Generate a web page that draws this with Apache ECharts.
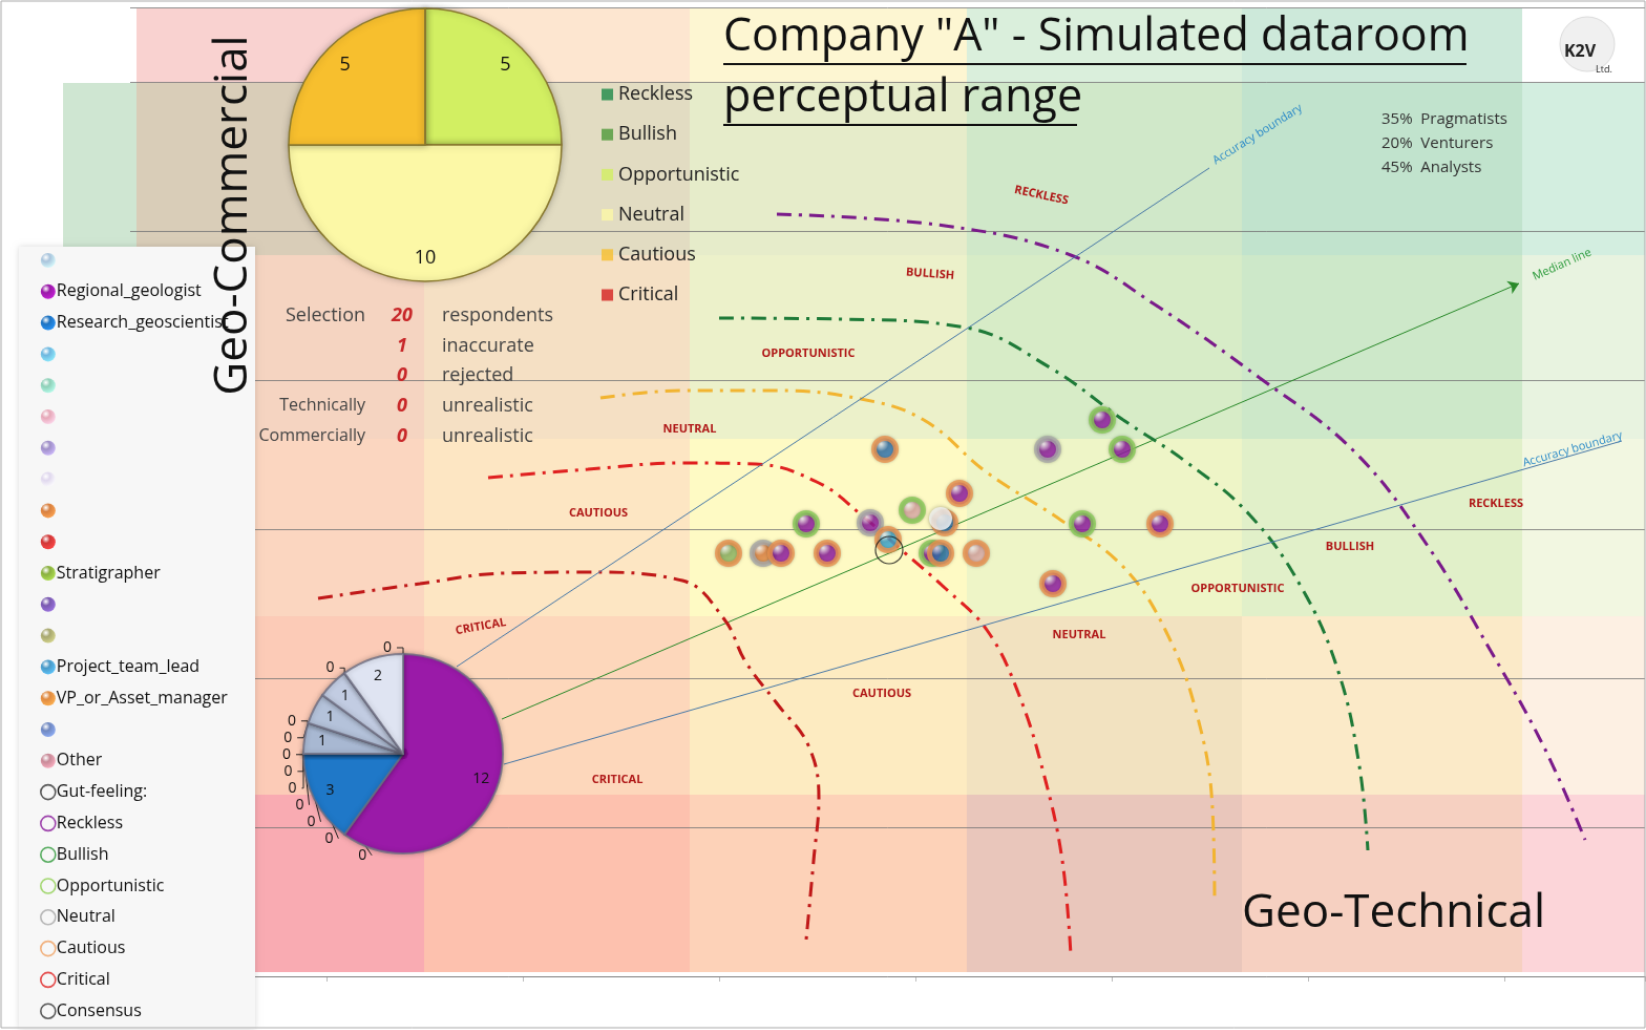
<!DOCTYPE html>
<html><head><meta charset="utf-8">
<script src="https://cdn.jsdelivr.net/npm/echarts@6/dist/echarts.min.js"></script>
<style>html,body{margin:0;padding:0;background:#fff;width:1646px;height:1030px}#c{width:1568px;height:981px;transform:scale(1.04974);transform-origin:0 0}</style>
</head><body><div id="c"></div>
<script>
// ---------- DATA ----------
const topPieNames = ['Reckless','Bullish','Opportunistic','Neutral','Cautious','Critical'];
const topPieValues = [0,0,5,10,5,0];
const roleNames = [' ','Regional_geologist','Research_geoscientist','  ','   ','    ','     ','      ','       ','        ','Stratigrapher','         ','          ','Project_team_lead','VP_or_Asset_manager','           ','Other'];
const roleValues = [0,12,3,0,0,0,0,0,0,0,1,0,0,1,1,0,2];
const gutNames = ['Gut-feeling:','Reckless','Bullish','Opportunistic','Neutral','Cautious','Critical','Consensus'];
// scatter points: [x score, y score, role]
const cautiousPts = [[719,502,'blue'],[790,460,'purple'],[776,432,'blue'],[722,416,'teal'],[981,431,'purple'],[570,403,'green'],[620,403,'purple'],[664,403,'purple'],[772,403,'blue'],[806,403,'pink'],[879,374,'purple']];
const bullishPts = [[926,530,'purple'],[945,502,'purple'],[745,444,'pink'],[644,431,'purple'],[907,431,'purple'],[764,403,'purple']];
const neutralPts = [[874,502,'purple'],[705,432,'purple'],[603,403,'orange']];
const whitePts = [[772,436,'white']];
const consensusPt = [[723,406]];
// perceptual boundary curves
const recklessCurve = [[616,726],[776,715],[896,687],[976,640],[1076,570],[1166,500],[1236,410],[1296,310],[1346,220],[1386,130]];
const bullishCurve = [[561,627],[676,626],[796,618],[876,580],[946,530],[1006,490],[1066,440],[1116,370],[1151,290],[1171,200],[1179,120]];
const neutralCurve = [[448,551],[526,558],[616,558],[696,550],[756,530],[816,480],[886,435],[946,390],[986,330],[1016,250],[1031,160],[1033,70]];
const cautiousCurve = [[341,475],[436,483],[526,489],[596,488],[656,470],[696,440],[736,405],[776,370],[816,330],[846,270],[871,190],[888,110],[896,20]];
const criticalCurve = [[179,360],[276,374],[356,384],[436,385],[526,377],[566,340],[586,300],[616,260],[646,220],[656,170],[651,110],[644,35]];
const upperAccuracy = [[311,295],[1028,770]];
const medianLine = [[354,245],[1323,660]];
const lowerAccuracy = [[356,202],[1421,510]];
// background zones
const colBounds = [6,280,533,797,1059,1326,1443];
const rowBounds = [922,851,687,512,343,173,4];
const zoneColors = [
 ['#f9d2d0','#fde6d0','#fdf6d2','#daefdc','#cde9da','#ffffff'],
 ['#d9cdb8','#e2dcc2','#e6ecca','#d0e8c9','#c1e3cd','#d3eee0'],
 ['#f5d4c1','#f5e0c4','#ecf1ca','#d7ecc7','#cde8c9','#e8f3e0'],
 ['#fbd6c0','#fde6c3','#fefac4','#eef5c7','#e1f0c9','#f2f7e1'],
 ['#fccbb7','#fdd7bb','#fdebc1','#f2e2c0','#fbeac8','#fdf0e3'],
 ['#f9abb2','#fdc1ae','#fdd2b8','#e9c6bb','#f6d0c1','#fcd5d9']
];
const zoneLabels = [['RECKLESS',992,186,12],['BULLISH',886,261,4],['OPPORTUNISTIC',770,337,0],['NEUTRAL',657,409,0],['CAUTIOUS',570,489,0],['CRITICAL',458,597,-10],
 ['RECKLESS',1425,480,0],['BULLISH',1286,521,0],['OPPORTUNISTIC',1179,561,0],['NEUTRAL',1028,605,0],['CAUTIOUS',840,661,0],['CRITICAL',588,743,0]];
const selRows = [['Selection','20','respondents'],['','1','inaccurate'],['','0','rejected'],['Technically','0','unrealistic'],['Commercially','0','unrealistic']];
const mixLines = ['35%  Pragmatists','20%  Venturers','45%  Analysts'];

// ---------- STYLES ----------
const topPieColors = ['#1e8a48','#4f9a3a','#d2ef62','#fcf8a6','#f7bf2e','#d42020'];
const roleLegendColors = ['#a9c4dc','#9a1aa8','#1f74c2','#6fb8e0','#8fd0b8','#e6a8b8','#a090c8','#e0d8ee','#d88040','#d03838','#8ab040','#7a5ab0','#a8a870','#4a9ac8','#e08a40','#7088c0','#c88a98'];
const rolePieColors = ['#c8d2e4','#9a1aa8','#1f78c8','#b0c0da','#b0c0da','#b0c0da','#b0c0da','#b0c0da','#b0c0da','#b0c0da','#a8b8d2','#b8c6de','#b8c6de','#b4c2da','#c2cce2','#c8d2e6','#dfe4f2'];
const sphere = {purple:'#8a1a9b',blue:'#2f6fa8',teal:'#3aa0c8',pink:'#d8a4a0',orange:'#e08040',green:'#8ab060',white:'#f4f4f4'};
const gutColors = {Reckless:'#8a1a9b',Bullish:'#2e9a3a',Opportunistic:'#8fcf50',Neutral:'#a8a8a8',Cautious:'#f0a060',Critical:'#e02020'};

function ballGrad(c){return new echarts.graphic.RadialGradient(0.35,0.3,0.8,[{offset:0,color:'#ffffff'},{offset:0.35,color:c},{offset:1,color:echarts.color.lift(c,-0.3)}]);}
function pts(arr,ring){return arr.map(p=>({value:[p[0],p[1]],itemStyle:{color:ballGrad(sphere[p[2]]),borderColor:ring,borderWidth:ring?5:0}}));}

const bgRects=[];
for(let r=0;r<6;r++)for(let c=0;c<6;c++)bgRects.push([colBounds[c],colBounds[c+1],rowBounds[r+1],rowBounds[r],zoneColors[r][c]]);
bgRects.push([-64,6,687,851,'#cfe6d2']);

const chart = echarts.init(document.getElementById('c'));
function curve(name,data,color){return {type:'line',name:name+'_curve',data,smooth:0.4,symbol:'none',z:6,lineStyle:{color,width:3,type:[14,7,3,7]},silent:true};}
function straight(data,color){return {type:'line',data,symbol:'none',z:6,lineStyle:{color,width:1},silent:true};}

const graphics=[];
graphics.push({type:'rect',shape:{x:18,y:235,width:225,height:745},style:{fill:'#f7f7f7',shadowBlur:6,shadowColor:'rgba(0,0,0,0.15)'},z:20});
graphics.push({type:'rect',shape:{x:1,y:1,width:1566,height:978},style:{fill:'none',stroke:'#aaa',lineWidth:1},z:50});
graphics.push({type:'text',left:689,top:14,style:{text:'Company "A" - Simulated dataroom',font:'43px "Open Sans", sans-serif',fill:'#111'},z:30});
graphics.push({type:'text',left:689,top:72,style:{text:'perceptual range',font:'43px "Open Sans", sans-serif',fill:'#111'},z:30});
graphics.push({type:'line',shape:{x1:689,y1:61,x2:1397,y2:61},style:{stroke:'#111',lineWidth:2},z:30});
graphics.push({type:'line',shape:{x1:689,y1:119,x2:1026,y2:119},style:{stroke:'#111',lineWidth:2},z:30});
graphics.push({type:'text',x:222,y:205,rotation:Math.PI/2,style:{text:'Geo-Commercial',font:'44px "Open Sans", sans-serif',fill:'#111',align:'center',verticalAlign:'middle'},z:30});
graphics.push({type:'text',left:1183,top:848,style:{text:'Geo-Technical',font:'44px "Open Sans", sans-serif',fill:'#111'},z:30});
mixLines.forEach((t,i)=>graphics.push({type:'text',left:1316,top:106+i*23,style:{text:t,font:'15px "Open Sans", sans-serif',fill:'#333'},z:30}));
selRows.forEach((r,i)=>{
  const y=301+i*28.6;
  graphics.push({type:'text',x:348,y,style:{text:r[0],align:'right',verticalAlign:'middle',font:(i===0?'18px':'16px')+' "Open Sans", sans-serif',fill:'#444'},z:30});
  graphics.push({type:'text',x:383,y,style:{text:r[1],align:'center',verticalAlign:'middle',font:'italic bold 18px "Open Sans", sans-serif',fill:'#c8282a'},z:30});
  graphics.push({type:'text',x:421,y,style:{text:r[2],verticalAlign:'middle',font:'18px "Open Sans", sans-serif',fill:'#444'},z:30});
});
zoneLabels.forEach(l=>graphics.push({type:'text',x:l[1],y:l[2],rotation:-l[3]*Math.PI/180,style:{text:l[0],align:'center',verticalAlign:'middle',font:'bold 11px "Open Sans", sans-serif',fill:'#b01818'},z:30}));
graphics.push({type:'text',x:1198,y:128,rotation:32*Math.PI/180,style:{text:'Accuracy boundary',align:'center',verticalAlign:'middle',font:'11px "Open Sans", sans-serif',fill:'#2a8ac8'},z:30});
graphics.push({type:'text',x:1498,y:428,rotation:16*Math.PI/180,style:{text:'Accuracy boundary',align:'center',verticalAlign:'middle',font:'11px "Open Sans", sans-serif',fill:'#2a8ac8'},z:30});
graphics.push({type:'text',x:1488,y:252,rotation:24*Math.PI/180,style:{text:'Median line',align:'center',verticalAlign:'middle',font:'11px "Open Sans", sans-serif',fill:'#2a9a3a'},z:30});
graphics.push({type:'circle',shape:{cx:1512,cy:42,r:26},style:{fill:'#f0f0f0',stroke:'#ddd'},z:30});
graphics.push({type:'text',x:1505,y:49,style:{text:'K2V',align:'center',verticalAlign:'middle',font:'bold 16px "Open Sans", sans-serif',fill:'#222'},z:31});
graphics.push({type:'text',x:1528,y:66,style:{text:'Ltd.',align:'center',verticalAlign:'middle',font:'9px "Open Sans", sans-serif',fill:'#222'},z:31});

const series=[
 {type:'custom',name:'zones',silent:true,z:1,clip:false,data:bgRects,
  renderItem:(p,api)=>{const a=api.coord([api.value(0),api.value(3)]),b=api.coord([api.value(1),api.value(2)]);
   return {type:'rect',shape:{x:a[0],y:a[1],width:b[0]-a[0],height:b[1]-a[1]},style:{fill:bgRects[p.dataIndex][4]}};}},
 curve('Reckless',recklessCurve,'#7a1a8a'),
 curve('Bullish',bullishCurve,'#1e7a38'),
 curve('Neutral',neutralCurve,'#f2b430'),
 curve('Cautious',cautiousCurve,'#e02020'),
 curve('Critical',criticalCurve,'#c01818'),
 straight(upperAccuracy,'#4a7aa8'),
 straight(lowerAccuracy,'#4a7aa8'),
 {type:'line',data:[],z:6,silent:true,markLine:{silent:true,symbol:['none','arrow'],symbolSize:10,label:{show:false},
   lineStyle:{color:'#2a8a2a',width:1,type:'solid'},data:[[{coord:medianLine[0]},{coord:medianLine[1]}]]}},
 {type:'scatter',name:'Gut-feeling:',data:[],itemStyle:{color:'transparent',borderColor:'#333',borderWidth:1}},
 {type:'scatter',name:'Reckless',data:[],itemStyle:{color:'transparent',borderColor:gutColors.Reckless,borderWidth:2}},
 {type:'scatter',name:'Bullish',data:pts(bullishPts,'#88cc58'),symbolSize:21,z:8,itemStyle:{shadowBlur:3,shadowColor:'rgba(0,0,0,0.3)'}},
 {type:'scatter',name:'Opportunistic',data:[],itemStyle:{color:'transparent',borderColor:gutColors.Opportunistic,borderWidth:2}},
 {type:'scatter',name:'Neutral',data:pts(neutralPts,'#aaaaaa'),symbolSize:21,z:8,itemStyle:{shadowBlur:3,shadowColor:'rgba(0,0,0,0.3)'}},
 {type:'scatter',name:'Cautious',data:pts(cautiousPts,'#ec9450'),symbolSize:21,z:8,itemStyle:{shadowBlur:3,shadowColor:'rgba(0,0,0,0.3)'}},
 {type:'scatter',name:'Critical',data:[],itemStyle:{color:'transparent',borderColor:gutColors.Critical,borderWidth:2}},
 {type:'scatter',name:'white',data:pts(whitePts,null),symbolSize:22,z:9,itemStyle:{shadowBlur:4,shadowColor:'rgba(0,0,0,0.4)'}},
 {type:'scatter',name:'Consensus',data:consensusPt,symbolSize:26,z:10,itemStyle:{color:'transparent',borderColor:'#111',borderWidth:1.2}},
 {type:'pie',name:'gut',center:[405,138],radius:130,z:25,startAngle:90,
  data:topPieNames.map((n,i)=>({name:n,value:topPieValues[i]})),
  color:topPieColors,itemStyle:{borderColor:'#8a7a30',borderWidth:1.5,shadowBlur:6,shadowColor:'rgba(0,0,0,0.25)'},
  label:{show:false},labelLine:{show:false}},
 {type:'pie',name:'gutLabels',center:[405,138],radius:[80,130],z:26,startAngle:90,silent:true,
  data:topPieNames.map((n,i)=>({name:n,value:topPieValues[i],label:{show:topPieValues[i]>0}})),
  itemStyle:{color:'transparent'},
  label:{position:'inside',formatter:'{c}',color:'#111',fontSize:18,fontFamily:'Open Sans'},labelLine:{show:false}},
 {type:'pie',name:'roles',center:[384,718],radius:95,z:25,startAngle:90,
  data:roleNames.map((n,i)=>({name:n,value:roleValues[i],itemStyle:{color:rolePieColors[i]},label:roleValues[i]>0?{show:false}:{show:true,position:'outside'}})),
  itemStyle:{borderColor:'rgba(110,110,130,0.8)',borderWidth:2,shadowBlur:5,shadowColor:'rgba(0,0,0,0.25)'},
  label:{formatter:'{c}',color:'#111',fontSize:14,fontFamily:'Open Sans'},labelLine:{length:6,length2:6,lineStyle:{color:'#222'}}},
 {type:'pie',name:'roleLabels',center:[384,718],radius:[55,95],z:26,startAngle:90,silent:true,
  data:roleNames.map((n,i)=>({name:n,value:roleValues[i],label:{show:roleValues[i]>0}})),
  itemStyle:{color:'transparent'},
  label:{position:'inside',formatter:'{c}',color:'#111',fontSize:14,fontFamily:'Open Sans'},labelLine:{show:false}}
];

chart.setOption({
 animation:false,
 grid:{left:124,right:1,top:7,bottom:51},
 xAxis:{type:'value',min:0,max:1443,interval:187,axisLabel:{show:false},splitLine:{show:false},
  axisLine:{lineStyle:{color:'#bbb'}},axisTick:{lineStyle:{color:'#bbb'},length:5}},
 yAxis:{type:'value',min:0,max:923,interval:142,z:3,axisLabel:{show:false},axisLine:{show:false},axisTick:{show:false},
  splitLine:{lineStyle:{color:'#777',width:0.8}}},
 legend:[
  {orient:'vertical',left:568,top:76,itemGap:20.2,itemWidth:11,itemHeight:11,z:30,selectedMode:false,
   textStyle:{fontSize:18,fontFamily:'Open Sans',color:'#222'},
   data:topPieNames.map((n,i)=>({name:n,icon:'rect',itemStyle:{color:topPieColors[i],borderWidth:0}}))},
  {orient:'vertical',left:33,top:235,itemGap:13.8,itemWidth:14,itemHeight:14,z:30,selectedMode:false,
   textStyle:{fontSize:16,fontFamily:'Open Sans',color:'#111',padding:[0,0,0,-4]},
   data:roleNames.map((n,i)=>({name:n,icon:'circle',itemStyle:{color:ballGrad(roleLegendColors[i]),borderWidth:0}}))
    .concat(gutNames.map(n=>({name:n,icon:'circle',itemStyle:{color:'transparent',borderColor:n==='Gut-feeling:'||n==='Consensus'?'#333':gutColors[n],borderWidth:1.6}})))}
 ],
 graphic:graphics,
 series
});
</script></body></html>
